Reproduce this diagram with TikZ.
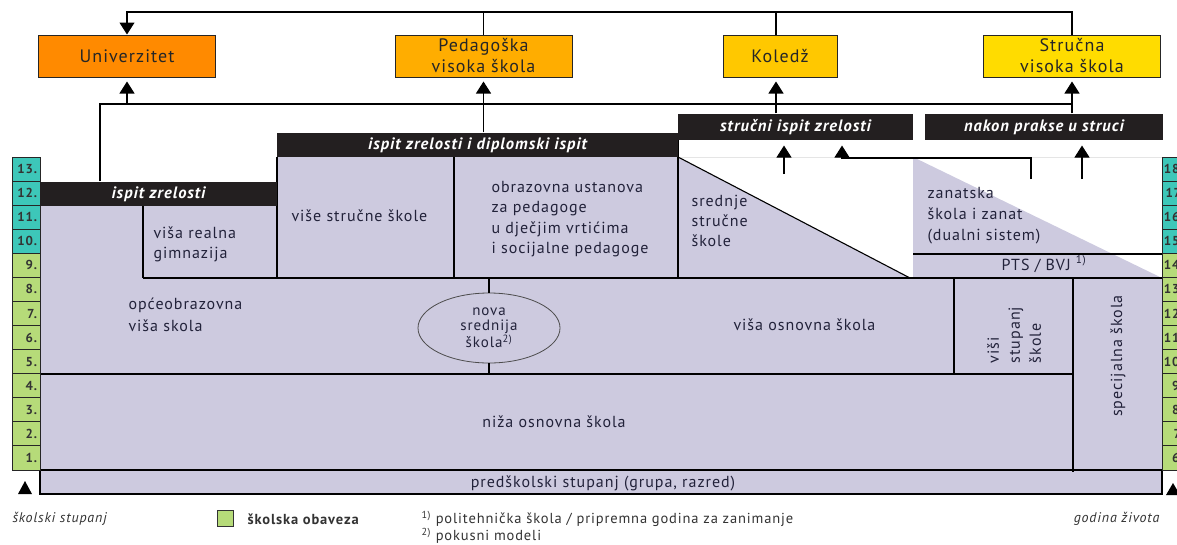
\documentclass[tikz,border=0pt]{standalone}
\usepackage{fontspec}
\setmainfont{PT Sans}[LetterSpace=6]
\usetikzlibrary{shapes.geometric,arrows.meta}
\definecolor{univc}{HTML}{FF8A00}
\definecolor{pedc}{HTML}{FFAD00}
\definecolor{kolc}{HTML}{FFC800}
\definecolor{strc}{HTML}{FFDC00}
\definecolor{lav}{HTML}{CDCADF}
\definecolor{barc}{HTML}{231F20}
\definecolor{tealc}{HTML}{3DC7B9}
\definecolor{grnc}{HTML}{B6DB79}
\definecolor{txt}{HTML}{22223A}
\begin{document}
\begin{tikzpicture}[x=1pt,y=-1pt,line width=1.1pt,
 topbox/.style={draw=black!85,line width=1pt,minimum height=42pt,inner sep=0,align=center,font=\fontsize{18}{21}\selectfont,text=black!85},
 barbox/.style={fill=barc,minimum height=24pt,inner sep=0,text=white,font=\fontsize{16.5}{18}\selectfont\bfseries\itshape},
 up/.style={-{Triangle[width=15pt,length=12pt]}},
 reg/.style={inner sep=0,align=left,text=txt,font=\fontsize{16}{20.5}\selectfont},
 num/.style={inner sep=0,anchor=east,text=black!80,font=\fontsize{13}{13}\selectfont\bfseries},
 cellL/.style={draw=black!85,line width=1pt},
 leg/.style={inner sep=0,text=black!80,font=\fontsize{14.5}{16}\selectfont}
]
\useasboundingbox (0,0) rectangle (1177,544);

% lavender areas
\fill[lav] (40,206) -- (277,206) -- (277,157) -- (678,157) -- (910,278) -- (1162,278) -- (1162,494) -- (40,494) -- cycle;
\fill[lav] (913,157) -- (1162,278) -- (913,278) -- cycle;
\draw[gray!20,line width=0.6pt] (678,157) -- (1162,157);

% inner lines
\draw (277,157) -- (277,278);
\draw (454,157) -- (454,278);
\draw (143,206) -- (143,278);
\draw (143,278) -- (1162,278);
\draw (678,140) -- (678,278);
\draw (678,157) -- (910,278);
\draw (913,254) -- (1162,254);
\draw (954,278) -- (954,374);
\draw (1073,278) -- (1073,472);
\draw (40,374) -- (1073,374);
\draw (40,206) -- (40,470);
\draw (40,470) rectangle (1162,494);

% number columns
\foreach \n [count=\i from 0] in {13,12,11,10,9,8,7,6,5,4,3,2,1}{
  \ifnum\i<4 \colorlet{cc}{tealc}\else\colorlet{cc}{grnc}\fi
  \draw[cellL,fill=cc] (12,{157+24.08*\i}) rectangle (40,{157+24.08*(\i+1)});
  \node[num] (l\n) at (37.5,{157+24.08*(\i+0.5)}) {\n.};
}
\foreach \n [count=\i from 0] in {18,17,16,15,14,13,12,11,10,9,8,7,6}{
  \ifnum\i<4 \colorlet{cc}{tealc}\else\colorlet{cc}{grnc}\fi
  \draw[cellL,fill=cc] (1162,{157+24.08*\i}) rectangle (1194,{157+24.08*(\i+1)});
  \node[num] (r\n) at (1184,{157+24.08*(\i+0.5)}) {\n.};
}
\fill (18,494) -- (32,494) -- (25,481) -- cycle;
\fill (1166,495) -- (1180,495) -- (1173,483) -- cycle;

% bars
\node[barbox,minimum width=237pt] (iz) at (158.5,194) {ispit zrelosti};
\node[barbox,minimum width=401pt] (dip) at (477.5,145) {ispit zrelosti i diplomski ispit};
\node[barbox,minimum width=235pt,minimum height=26pt] (sz) at (795.5,127) {stručni ispit zrelosti};
\node[barbox,minimum width=238pt,minimum height=26pt] (np) at (1044,127) {nakon prakse u struci};

% top boxes
\node[topbox,fill=univc,minimum width=177pt] (univ) at (127,56) {Univerzitet};
\node[topbox,fill=pedc,minimum width=177pt] (ped) at (483.5,56) {Pedagoška\\visoka škola};
\node[topbox,fill=kolc,minimum width=114pt] (kol) at (780,56) {Koledž};
\node[topbox,fill=strc,minimum width=177pt] (str) at (1072,56) {Stručna\\visoka škola};

% top connectors
\coordinate (topL) at (127,12);
\draw[up] (str.north) |- (topL) -- (univ.north);
\draw (ped.north) -- (ped.north |- topL);
\coordinate (kn) at ([xshift=-4pt]kol.north);
\coordinate (ks) at ([xshift=-4pt]kol.south);
\draw (kn) -- (kn |- topL);

\coordinate (midL) at (100,104);
\draw (iz.north -| midL) -- (midL) -- (midL -| str.south);
\draw[up,shorten >=4pt] (univ.south |- midL) -- (univ.south);
\draw[up,shorten >=4pt] (dip.north -| ped.south) -- (ped.south);
\draw[up,shorten >=4pt] (ks |- sz.north) -- (ks);
\draw[up,shorten >=4pt] (np.north -| str.south) -- (str.south);

% arrows below bars
\coordinate (a1) at (784,174);
\draw[up,shorten >=5pt] (a1) -- (a1 |- sz.south);
\coordinate (a2) at (1031,179);
\coordinate (a2k) at (842,158);
\draw[up,shorten >=5pt] (a2) |- (a2k) -- (a2k |- sz.south);
\coordinate (a3) at (1082,179);
\draw[up,shorten >=5pt] (a3) -- (a3 |- np.south);

% ellipse
\node[ellipse,draw=black!70,line width=0.8pt,fill=lav,minimum width=142pt,minimum height=70pt,inner sep=0,align=center,text=txt,font=\fontsize{15}{15}\selectfont] (nss) at (489,328) {nova\\srednija\\škola\textsuperscript{2)}};
\coordinate (y278) at (0,278);
\coordinate (y374) at (0,374);
\draw (nss.north |- y278) -- (nss.north);
\draw (nss.south) -- (nss.south |- y374);

% region texts
\node[reg,anchor=west,font=\fontsize{16}{19.5}\selectfont] (vrg) at (153,244.5) {viša realna\\gimnazija};
\node[reg,anchor=west,font=\fontsize{16}{22}\selectfont] (ovs) at (128,315) {općeobrazovna\\viša skola};
\node[reg,anchor=west] (vss) at (291,216) {više stručne škole};
\node[reg,anchor=west,font=\fontsize{16}{20.3}\selectfont] (oup) at (491,219) {obrazovna ustanova\\za pedagoge\\u dječjim vrtićima\\i socijalne pedagoge};
\node[reg,anchor=west,font=\fontsize{16}{20}\selectfont] (sss) at (691,221) {srednje\\stručne\\škole};
\node[reg,anchor=west,font=\fontsize{16}{21}\selectfont] (zsz) at (927,216) {zanatska\\škola i zanat\\(dualni sistem)};
\node[reg,anchor=west] (pts) at (1001,264) {PTS / BVJ \textsuperscript{1)}};
\node[reg,anchor=west] (vos) at (733,325) {viša osnovna škola};
\node[reg,align=left,rotate=90,font=\fontsize{16}{21}\selectfont] (vsk) at (1014,335) {viši\\stupanj\\škole};
\node[reg,rotate=90] (spc) at (1118,356) {specijalna škola};
\node[reg] (nos) at (554,422) {niža osnovna škola};
\node[reg] (pst) at (603,483) {predškolski stupanj (grupa, razred)};

% legend
\node[leg,anchor=west,font=\fontsize{14}{16}\selectfont\itshape] (lss) at (12,519) {školski stupanj};
\node[draw=black!80,line width=0.8pt,fill=grnc,minimum size=16pt,inner sep=0] (lsq) at (225,518) {};
\node[leg,anchor=west,font=\fontsize{14.5}{16}\selectfont\bfseries] (lob) at (247,519) {školska obaveza};
\node[leg,anchor=west] (fn1) at (421,519) {\textsuperscript{1)} politehnička škola / pripremna godina za zanimanje};
\node[leg,anchor=west] (fn2) at (421,536) {\textsuperscript{2)} pokusni modeli};
\node[leg,anchor=east,font=\fontsize{14}{16}\selectfont\itshape] (gz) at (1160,519) {godina života};
\end{tikzpicture}
\end{document}
